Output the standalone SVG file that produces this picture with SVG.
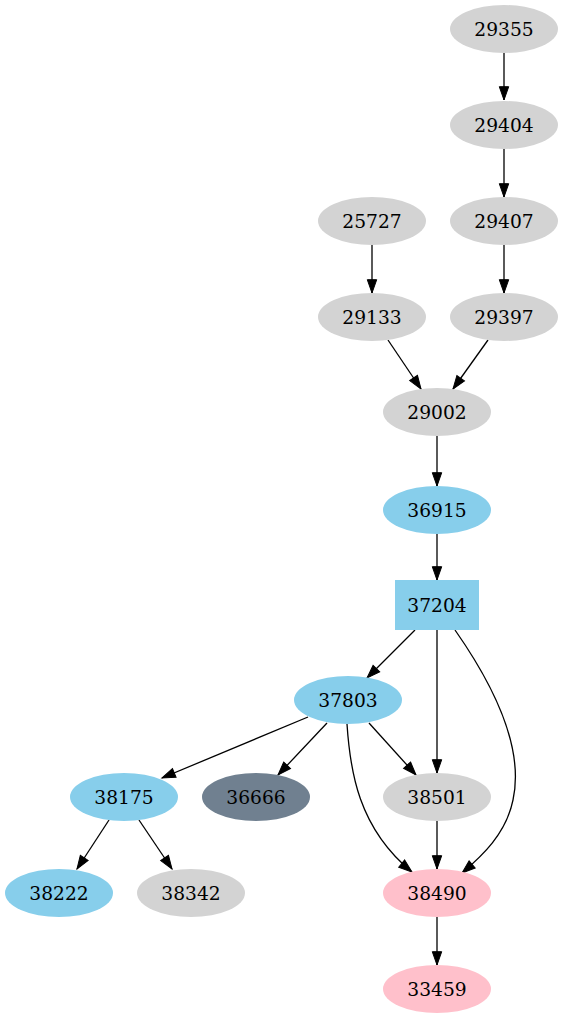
<svg xmlns="http://www.w3.org/2000/svg" width="563" height="1019" viewBox="0 0 563 1019">
<style>
.g{fill:#d3d3d3}.b{fill:#87ceeb}.s{fill:#708090}.p{fill:#ffc0cb}
text{font-family:"DejaVu Serif","Liberation Serif",serif;font-size:18.67px;text-anchor:middle;fill:#000}
.e{stroke:#000;stroke-width:1.3;fill:none;marker-end:url(#a)}
</style>
<defs>
<marker id="a" markerUnits="userSpaceOnUse" markerWidth="14" markerHeight="10" refX="13.3" refY="4.7" orient="auto" overflow="visible">
<path d="M0,0 L13.3,4.7 L0,9.4 z" fill="#000" stroke="#000" stroke-width="1"/>
</marker>
</defs>
<rect width="563" height="1019" fill="#fff"/>
<g id="edges">
<path class="e" d="M504,53 L504,100"/>
<path class="e" d="M504,149 L504,197"/>
<path class="e" d="M504,245 L504,293"/>
<path class="e" d="M372,245 L372,293"/>
<path class="e" d="M388,340 L421,389"/>
<path class="e" d="M488,340 L453,389"/>
<path class="e" d="M437,436 L437,486"/>
<path class="e" d="M437,534 L437,580"/>
<path class="e" d="M415,630 L367,678"/>
<path class="e" d="M437,630 L437,773"/>
<path class="e" d="M455,630 C490,680 525,745 513,800 C506,834 482,856 462,873"/>
<path class="e" d="M308,717 L162,778"/>
<path class="e" d="M327,723 L278,775"/>
<path class="e" d="M369,723 L416,775"/>
<path class="e" d="M347,724 C350,770 358,828 412,872"/>
<path class="e" d="M437,821 L437,869"/>
<path class="e" d="M109,820 L77,869"/>
<path class="e" d="M139,820 L172,869"/>
<path class="e" d="M437,917 L437,965"/>
</g>
<g id="n29355"><ellipse class="g" cx="504" cy="29" rx="54" ry="24"/><text x="504" y="35.5">29355</text></g>
<g id="n29404"><ellipse class="g" cx="504" cy="125" rx="54" ry="24"/><text x="504" y="131.5">29404</text></g>
<g id="n29407"><ellipse class="g" cx="504" cy="221" rx="54" ry="24"/><text x="504" y="227.5">29407</text></g>
<g id="n25727"><ellipse class="g" cx="372" cy="221" rx="54" ry="24"/><text x="372" y="227.5">25727</text></g>
<g id="n29397"><ellipse class="g" cx="504" cy="317" rx="54" ry="24"/><text x="504" y="323.5">29397</text></g>
<g id="n29133"><ellipse class="g" cx="372" cy="317" rx="54" ry="24"/><text x="372" y="323.5">29133</text></g>
<g id="n29002"><ellipse class="g" cx="437" cy="412" rx="54" ry="24"/><text x="437" y="418.5">29002</text></g>
<g id="n36915"><ellipse class="b" cx="437" cy="510" rx="54" ry="24"/><text x="437" y="516.5">36915</text></g>
<g id="n37204"><rect class="b" x="395" y="580" width="84" height="50"/><text x="437" y="611.5">37204</text></g>
<g id="n37803"><ellipse class="b" cx="348" cy="700" rx="54" ry="24"/><text x="348" y="706.5">37803</text></g>
<g id="n38175"><ellipse class="b" cx="124" cy="797" rx="54" ry="24"/><text x="124" y="803.5">38175</text></g>
<g id="n36666"><ellipse class="s" cx="256" cy="797" rx="54" ry="24"/><text x="256" y="803.5">36666</text></g>
<g id="n38501"><ellipse class="g" cx="437" cy="797" rx="54" ry="24"/><text x="437" y="803.5">38501</text></g>
<g id="n38222"><ellipse class="b" cx="59" cy="893" rx="54" ry="24"/><text x="59" y="899.5">38222</text></g>
<g id="n38342"><ellipse class="g" cx="191" cy="893" rx="54" ry="24"/><text x="191" y="899.5">38342</text></g>
<g id="n38490"><ellipse class="p" cx="437" cy="893" rx="54" ry="24"/><text x="437" y="899.5">38490</text></g>
<g id="n33459"><ellipse class="p" cx="437" cy="989" rx="54" ry="24"/><text x="437" y="995.5">33459</text></g>
</svg>
